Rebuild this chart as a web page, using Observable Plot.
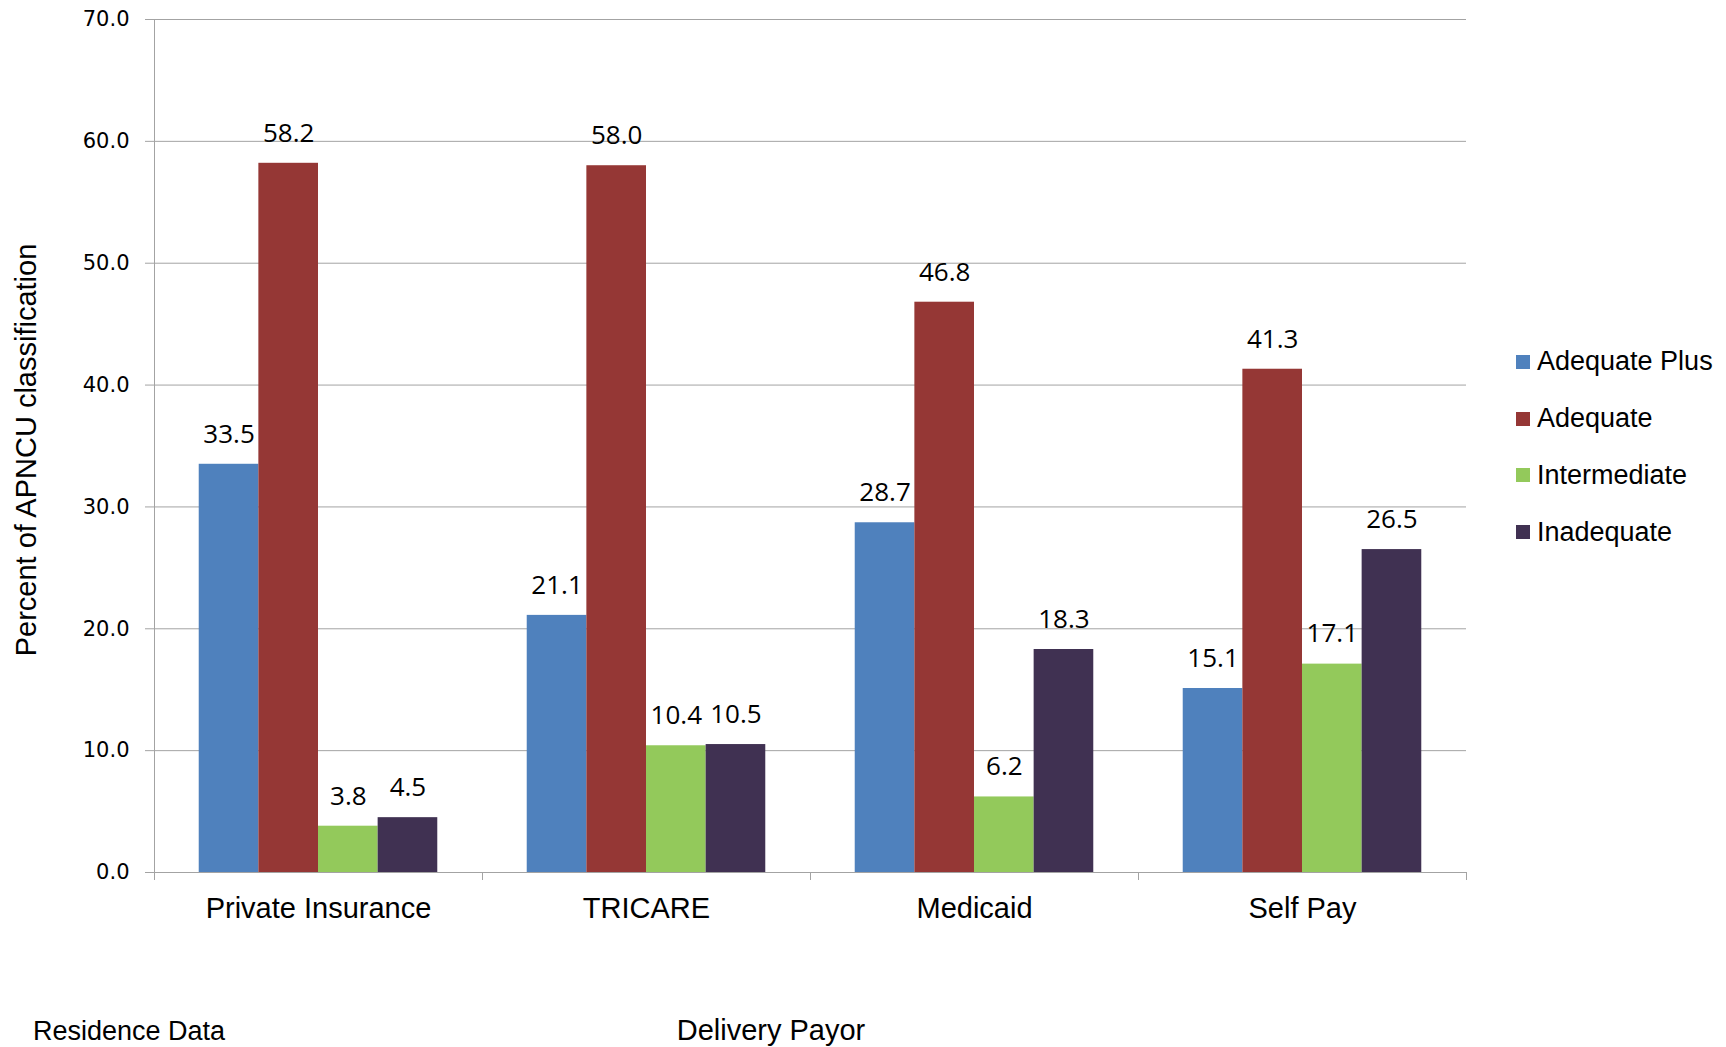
<!DOCTYPE html>
<html>
<head>
<meta charset="utf-8">
<script src="https://cdn.jsdelivr.net/npm/d3@7"></script>
<script src="https://cdn.jsdelivr.net/npm/@observablehq/plot@0.6"></script>
<style>
  html, body { margin: 0; padding: 0; background: #fff; }
  #chart { position: relative; width: 1726px; height: 1047px; overflow: hidden; background: #fff; }
  #plot svg { display: block; }
  #legend { position: absolute; left: 1516px; top: 333.6px; font-family: "Liberation Sans", Arial, sans-serif; font-size: 27px; color: #000; }
  #legend .item { display: flex; align-items: center; height: 56.7px; white-space: nowrap; }
  #legend .swatch { width: 14px; height: 14px; margin-right: 7px; flex: none; }
  #below { position: relative; height: 87px; font-family: "Liberation Sans", Arial, sans-serif; color: #000; }
  #below .xtitle { position: absolute; left: 771px; top: 55.5px; transform: translateX(-50%); font-size: 29px; line-height: 29px; white-space: nowrap; }
  #below .note { position: absolute; left: 33px; top: 58px; font-size: 27px; line-height: 27px; white-space: nowrap; }
</style>
</head>
<body>
<div id="chart">
  <div id="plot"></div>
  <div id="legend"></div>
  <div id="below"></div>
</div>
<script>
// Payor groups along the bottom and APNCU classes within each group
const payors = ["Private Insurance", "TRICARE", "Medicaid", "Self Pay"];
const series = ["Adequate Plus", "Adequate", "Intermediate", "Inadequate"];

// Percent of births in each APNCU class, one value per payor
const adequatePlus = [33.5, 21.1, 28.7, 15.1];
const adequate = [58.2, 58.0, 46.8, 41.3];
const intermediate = [3.8, 10.4, 6.2, 17.1];
const inadequate = [4.5, 10.5, 18.3, 26.5];

const yTicks = [0, 10, 20, 30, 40, 50, 60, 70];
const colors = ["#4F81BD", "#953735", "#93C95B", "#403152"];

const yTitle = "Percent of APNCU classification";
const xTitle = "Delivery Payor";
const note = "Residence Data";

const seriesValues = [adequatePlus, adequate, intermediate, inadequate];
const rows = payors.flatMap((payor, i) =>
  seriesValues.map((vals, k) => ({payor, series: series[k], idx: k, value: vals[i]}))
);

// each payor group spans series slots 0..4 with a gap on both sides
const slotDomain = [-0.75, series.length + 0.75];
const gray = "#a3a3a3";

const chart = Plot.plot({
  width: 1480,
  height: 960,
  marginTop: 19,
  marginRight: 13,
  marginBottom: 88,
  marginLeft: 152,
  style: {fontFamily: "'Liberation Sans', Arial, sans-serif", fontSize: "29px", color: "#000", background: "#fff"},
  fx: {domain: payors, padding: 0},
  x: {domain: slotDomain},
  y: {domain: [0, 70]},
  color: {domain: series, range: colors},
  marks: [
    Plot.ruleY(yTicks.filter((v) => v > 0), {stroke: gray, strokeWidth: 1}),
    Plot.rectY(rows, {
      fx: "payor",
      x1: "idx",
      x2: (d) => d.idx + 1,
      y1: 0,
      y2: "value",
      fill: "series"
    }),
    Plot.ruleY([0], {stroke: gray, strokeWidth: 1}),
    Plot.ruleX([slotDomain[0]], {fx: () => payors[0], stroke: gray, strokeWidth: 1}),
    Plot.axisX({ticks: slotDomain, tickSize: 8, stroke: gray, fill: "none", label: null}),
    Plot.axisY({
      ticks: yTicks,
      tickFormat: (d) => d.toFixed(1),
      tickSize: 9,
      tickPadding: 16,
      stroke: gray,
      fill: "#000",
      fontSize: 21,
      fontFamily: "'DejaVu Sans', Verdana, sans-serif",
      label: null
    }),
    Plot.axisFx({anchor: "bottom", tickSize: 0, tickPadding: 25, label: null}),
    Plot.text(rows, {
      fx: "payor",
      x: (d) => d.idx + 0.5,
      y: "value",
      text: (d) => d.value.toFixed(1),
      dy: -30,
      lineAnchor: "middle",
      fontSize: 26,
      fontFamily: "'Open Sans', sans-serif",
      fill: "#000"
    }),
    Plot.text([yTitle], {
      fx: () => payors[0],
      text: (d) => d,
      frameAnchor: "left",
      rotate: -90,
      dx: -139,
      dy: 4,
      lineAnchor: "top",
      textAnchor: "middle",
      fontSize: 29,
      fill: "#000"
    })
  ]
});
document.getElementById("plot").append(chart);

// legend: one square swatch per APNCU class
const legend = d3.select("#legend");
series.forEach((name, k) => {
  const item = legend.append("div").attr("class", "item");
  item.append("span").attr("class", "swatch").style("background", colors[k]);
  item.append("span").text(name);
});

const below = d3.select("#below");
below.append("div").attr("class", "xtitle").text(xTitle);
below.append("div").attr("class", "note").text(note);
</script>
</body>
</html>
